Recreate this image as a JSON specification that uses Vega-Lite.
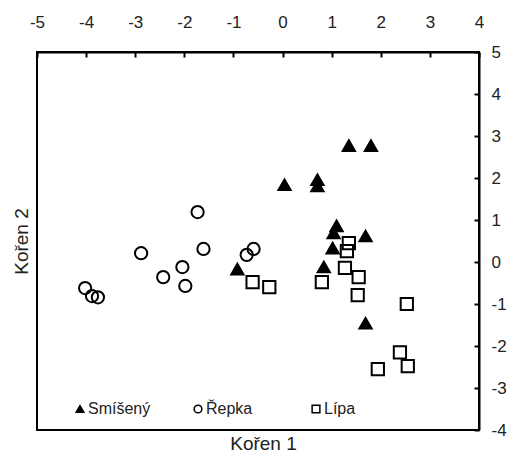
{
  "$schema": "https://vega.github.io/schema/vega-lite/v6.json",
  "width": 442,
  "height": 378,
  "autosize": "none",
  "padding": {"left": 37, "top": 52, "right": 37, "bottom": 24},
  "background": "white",
  "config": {
    "font": "Liberation Sans",
    "view": {"stroke": "black", "strokeWidth": 2},
    "axis": {"grid": false, "labelFont": "Liberation Sans", "labelColor": "#222", "titleColor": "#222", "titleFont": "Liberation Sans", "titleFontWeight": "normal"}
  },
  "data": {
    "values": [
      {"k1": 1.35, "k2": 2.77, "g": "Smíšený"},
      {"k1": 1.80, "k2": 2.77, "g": "Smíšený"},
      {"k1": 0.04, "k2": 1.84, "g": "Smíšený"},
      {"k1": 0.71, "k2": 1.96, "g": "Smíšený"},
      {"k1": 0.71, "k2": 1.81, "g": "Smíšený"},
      {"k1": 1.10, "k2": 0.86, "g": "Smíšený"},
      {"k1": 1.04, "k2": 0.69, "g": "Smíšený"},
      {"k1": 1.02, "k2": 0.33, "g": "Smíšený"},
      {"k1": 1.69, "k2": 0.62, "g": "Smíšený"},
      {"k1": 0.84, "k2": -0.12, "g": "Smíšený"},
      {"k1": -0.92, "k2": -0.17, "g": "Smíšený"},
      {"k1": 1.69, "k2": -1.46, "g": "Smíšený"},
      {"k1": -1.73, "k2": 1.19, "g": "Řepka"},
      {"k1": -2.88, "k2": 0.21, "g": "Řepka"},
      {"k1": -1.61, "k2": 0.31, "g": "Řepka"},
      {"k1": -0.59, "k2": 0.31, "g": "Řepka"},
      {"k1": -0.73, "k2": 0.17, "g": "Řepka"},
      {"k1": -2.04, "k2": -0.12, "g": "Řepka"},
      {"k1": -2.43, "k2": -0.36, "g": "Řepka"},
      {"k1": -1.98, "k2": -0.57, "g": "Řepka"},
      {"k1": -4.02, "k2": -0.62, "g": "Řepka"},
      {"k1": -3.88, "k2": -0.81, "g": "Řepka"},
      {"k1": -3.76, "k2": -0.84, "g": "Řepka"},
      {"k1": 1.35, "k2": 0.45, "g": "Lípa"},
      {"k1": 1.31, "k2": 0.26, "g": "Lípa"},
      {"k1": 1.27, "k2": -0.14, "g": "Lípa"},
      {"k1": 1.55, "k2": -0.36, "g": "Lípa"},
      {"k1": 1.53, "k2": -0.79, "g": "Lípa"},
      {"k1": 0.80, "k2": -0.48, "g": "Lípa"},
      {"k1": 2.53, "k2": -1.00, "g": "Lípa"},
      {"k1": 2.39, "k2": -2.15, "g": "Lípa"},
      {"k1": 2.55, "k2": -2.48, "g": "Lípa"},
      {"k1": 1.94, "k2": -2.55, "g": "Lípa"},
      {"k1": -0.61, "k2": -0.48, "g": "Lípa"},
      {"k1": -0.27, "k2": -0.60, "g": "Lípa"}
    ]
  },
  "mark": {"type": "point", "stroke": "black", "strokeWidth": 2, "opacity": 1, "size": 150},
  "encoding": {
    "x": {
      "field": "k1", "type": "quantitative",
      "scale": {"domain": [-5, 4], "nice": false, "zero": false},
      "axis": {
        "orient": "top", "values": [-5, -4, -3, -2, -1, 0, 1, 2, 3, 4],
        "labelExpr": "datum.value < 0 ? '-' + abs(datum.value) : '' + datum.value",
        "title": "Kořen 1", "titleFontSize": 19, "titleX": 226, "titleY": 391, "titleAlign": "center", "titleBaseline": "middle",
        "labelFontSize": 17, "tickSize": -5, "tickColor": "black", "tickWidth": 2, "domainColor": "black", "domainWidth": 2, "labelPadding": 26, "labelFlush": false
      }
    },
    "y": {
      "field": "k2", "type": "quantitative",
      "scale": {"domain": [-4, 5], "nice": false, "zero": false},
      "axis": {
        "orient": "right", "values": [-4, -3, -2, -1, 0, 1, 2, 3, 4, 5],
        "labelExpr": "datum.value < 0 ? '-' + abs(datum.value) : '' + datum.value",
        "title": "Kořen 2", "titleFontSize": 19, "titleX": -458, "titleY": 189, "titleAngle": -90, "titleAlign": "center", "titleBaseline": "middle",
        "labelFontSize": 17, "tickSize": -5, "tickColor": "black", "tickWidth": 2, "domainColor": "black", "domainWidth": 2, "labelPadding": 17, "labelFlush": false, "labelAlign": "left"
      }
    },
    "shape": {
      "field": "g", "type": "nominal",
      "scale": {"domain": ["Smíšený", "Řepka", "Lípa"], "range": ["triangle-up", "circle", "square"]},
      "legend": {"title": null, "orient": "none", "direction": "horizontal", "legendX": 35, "legendY": 349, "labelFontSize": 16, "labelColor": "#222", "symbolSize": 60, "columnPadding": 39, "labelOffset": 0, "padding": 0, "gridAlign": "all",
        "encode": {"symbols": {"update": {"stroke": {"value": "black"}, "strokeWidth": {"value": 2}}}}}
    },
    "fill": {
      "field": "g", "type": "nominal",
      "scale": {"domain": ["Smíšený", "Řepka", "Lípa"], "range": ["black", "transparent", "transparent"]},
      "legend": {"title": null, "orient": "none", "direction": "horizontal", "legendX": 35, "legendY": 349, "labelFontSize": 16, "labelColor": "#222", "symbolSize": 60, "columnPadding": 39, "labelOffset": 0, "padding": 0, "gridAlign": "all",
        "encode": {"symbols": {"update": {"stroke": {"value": "black"}, "strokeWidth": {"value": 2}}}}}
    }
  }
}
